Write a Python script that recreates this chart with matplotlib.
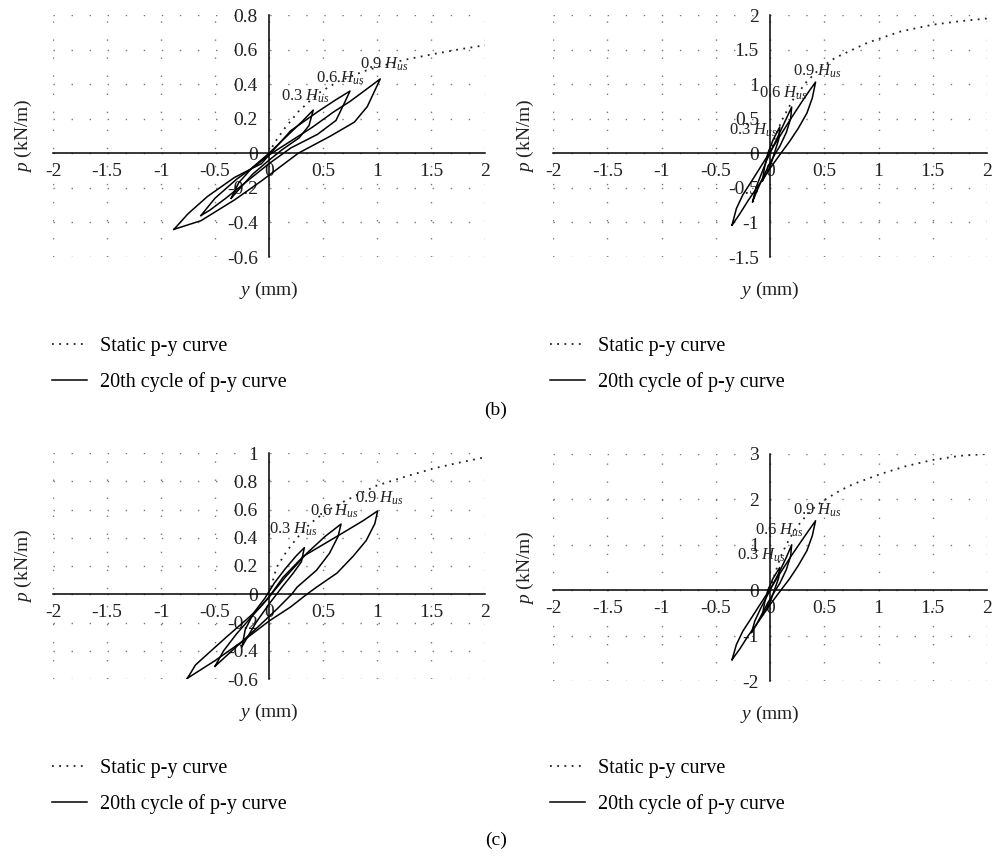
import matplotlib.pyplot as plt
from matplotlib.ticker import FuncFormatter, MultipleLocator

plt.rcParams['font.family'] = ['Liberation Serif', 'DejaVu Serif']
plt.rcParams['mathtext.fontset'] = 'custom'
plt.rcParams['mathtext.rm'] = 'Liberation Serif'
plt.rcParams['mathtext.it'] = 'Liberation Serif:italic'
plt.rcParams['axes.unicode_minus'] = False

levels = ['0.3', '0.6', '0.9']
legend_labels = ['Static p-y curve', '20th cycle of p-y curve']

# (b), left: static backbone and 20th-cycle loops at 0.3/0.6/0.9 H_us
bl_static_y = [0, 0.05, 0.14, 0.27, 0.45, 0.64, 0.88, 1.04, 1.25, 1.53, 1.75, 2.0]
bl_static_p = [0, 0.06, 0.14, 0.24, 0.345, 0.415, 0.475, 0.505, 0.54, 0.575, 0.6, 0.625]
bl_loop_y = [
    [-0.35, -0.28, -0.15, 0.0, 0.15, 0.3, 0.41, 0.37, 0.28, 0.12, 0.0, -0.15, -0.28, -0.35],
    [-0.63, -0.5, -0.3, -0.1, 0.0, 0.2, 0.45, 0.62, 0.75, 0.69, 0.62, 0.45, 0.2, 0.0, -0.2, -0.4, -0.55, -0.63],
    [-0.88, -0.75, -0.57, -0.32, -0.07, 0.0, 0.2, 0.4, 0.6, 0.75, 0.88, 1.03,
     0.97, 0.91, 0.79, 0.57, 0.27, 0.1, -0.07, -0.32, -0.63, -0.88],
]
bl_loop_p = [
    [-0.26, -0.17, -0.08, 0.0, 0.09, 0.18, 0.25, 0.16, 0.09, 0.02, -0.04, -0.12, -0.21, -0.26],
    [-0.36, -0.26, -0.15, -0.06, -0.01, 0.13, 0.24, 0.31, 0.36, 0.28, 0.19, 0.11, 0.03, -0.06, -0.16, -0.26, -0.33, -0.36],
    [-0.44, -0.35, -0.25, -0.14, -0.06, -0.01, 0.07, 0.15, 0.24, 0.30, 0.36, 0.43,
     0.35, 0.27, 0.18, 0.10, 0.0, -0.08, -0.16, -0.27, -0.39, -0.44],
]

# (b), right
br_static_y = [0, 0.05, 0.11, 0.21, 0.34, 0.47, 0.6, 0.9, 1.2, 1.5, 1.75, 2.0]
br_static_p = [0, 0.25, 0.48, 0.77, 1.04, 1.24, 1.38, 1.6, 1.76, 1.86, 1.91, 1.95]
br_loop_y = [
    [-0.07, -0.05, -0.02, 0.03, 0.09, 0.08, 0.04, 0.0, -0.07],
    [-0.16, -0.13, -0.08, -0.03, 0.03, 0.09, 0.15, 0.20, 0.19, 0.15, 0.09, 0.05, -0.02, -0.08, -0.13, -0.16],
    [-0.35, -0.31, -0.25, -0.16, -0.08, 0.0, 0.1, 0.2, 0.3, 0.37, 0.42,
     0.39, 0.34, 0.26, 0.18, 0.10, 0.0, -0.1, -0.2, -0.28, -0.35],
]
br_loop_p = [
    [-0.40, -0.2, 0.0, 0.2, 0.38, 0.2, 0.0, -0.2, -0.40],
    [-0.70, -0.50, -0.30, -0.10, 0.10, 0.30, 0.50, 0.67, 0.50, 0.30, 0.10, 0.0, -0.20, -0.40, -0.58, -0.70],
    [-1.04, -0.80, -0.60, -0.38, -0.18, 0.02, 0.27, 0.52, 0.76, 0.92, 1.03,
     0.80, 0.58, 0.36, 0.17, 0.0, -0.22, -0.45, -0.68, -0.88, -1.04],
]

# (c), left
cl_static_y = [0, 0.07, 0.16, 0.25, 0.38, 0.5, 0.6, 0.78, 1.0, 1.25, 1.52, 1.75, 2.0]
cl_static_p = [0, 0.19, 0.3, 0.39, 0.5, 0.57, 0.62, 0.69, 0.77, 0.83, 0.89, 0.93, 0.97]
cl_loop_y = [
    [-0.25, -0.22, -0.14, -0.04, 0.05, 0.15, 0.25, 0.327, 0.3, 0.225, 0.12, 0.0, -0.12, -0.25],
    [-0.5, -0.42, -0.3, -0.15, 0.0, 0.15, 0.35, 0.52, 0.667, 0.64, 0.56, 0.44, 0.26, 0.21, 0.08, -0.1, -0.3, -0.5],
    [-0.756, -0.68, -0.55, -0.39, -0.21, -0.08, 0.0, 0.13, 0.32, 0.63, 0.87, 1.006,
     0.98, 0.90, 0.78, 0.63, 0.44, 0.35, 0.2, 0.0, -0.24, -0.5, -0.756],
]
cl_loop_p = [
    [-0.37, -0.25, -0.13, -0.03, 0.08, 0.18, 0.27, 0.33, 0.23, 0.15, 0.05, -0.07, -0.2, -0.37],
    [-0.51, -0.40, -0.28, -0.15, -0.02, 0.12, 0.29, 0.41, 0.497, 0.41, 0.29, 0.17, 0.05, 0.0, -0.1, -0.23, -0.37, -0.51],
    [-0.595, -0.5, -0.41, -0.30, -0.18, -0.09, -0.02, 0.12, 0.27, 0.41, 0.52, 0.59,
     0.50, 0.38, 0.27, 0.15, 0.05, 0.0, -0.09, -0.19, -0.33, -0.47, -0.595],
]

# (c), right
cr_static_y = [0, 0.05, 0.1, 0.15, 0.22, 0.3, 0.42, 0.53, 0.65, 0.77, 1.02, 1.25, 1.5, 1.75, 2.0]
cr_static_p = [0, 0.4, 0.75, 1.0, 1.3, 1.55, 1.85, 2.03, 2.2, 2.34, 2.56, 2.73, 2.87, 2.96, 3.0]
cr_loop_y = [
    [-0.07, -0.05, -0.02, 0.03, 0.09, 0.08, 0.04, 0.0, -0.07],
    [-0.17, -0.14, -0.09, -0.03, 0.03, 0.09, 0.15, 0.20, 0.19, 0.15, 0.09, 0.05, -0.02, -0.08, -0.13, -0.17],
    [-0.35, -0.31, -0.25, -0.16, -0.08, 0.0, 0.1, 0.2, 0.3, 0.37, 0.42,
     0.39, 0.34, 0.26, 0.18, 0.10, 0.0, -0.1, -0.2, -0.28, -0.35],
]
cr_loop_p = [
    [-0.55, -0.28, 0.0, 0.27, 0.50, 0.27, 0.0, -0.27, -0.55],
    [-0.93, -0.68, -0.42, -0.14, 0.14, 0.42, 0.72, 1.00, 0.75, 0.45, 0.15, 0.0, -0.28, -0.55, -0.78, -0.93],
    [-1.53, -1.20, -0.90, -0.57, -0.27, 0.02, 0.40, 0.77, 1.12, 1.36, 1.53,
     1.20, 0.87, 0.54, 0.25, 0.0, -0.32, -0.67, -1.0, -1.3, -1.53],
]

W, H = 992, 859
fig = plt.figure(figsize=(W / 100, H / 100), dpi=100)


def px_rect(left, top, right, bottom):
    return [left / W, 1 - bottom / H, (right - left) / W, (bottom - top) / H]


panels = [
    # rect, ylim, ystep, static, loops, label anchors, ylabel x
    (px_rect(53, 15, 485, 257), (-0.6, 0.8), 0.2, (bl_static_y, bl_static_p),
     (bl_loop_y, bl_loop_p), [(0.11, 0.305), (0.435, 0.41), (0.84, 0.49)], 23),
    (px_rect(553, 15, 987, 257), (-1.5, 2.0), 0.5, (br_static_y, br_static_p),
     (br_loop_y, br_loop_p), [(-0.38, 0.265), (-0.10, 0.81), (0.21, 1.13)], 525),
    (px_rect(53, 453, 485, 679), (-0.6, 1.0), 0.2, (cl_static_y, cl_static_p),
     (cl_loop_y, cl_loop_p), [(0.0, 0.43), (0.38, 0.554), (0.796, 0.65)], 23),
    (px_rect(553, 454, 987, 681), (-2.0, 3.0), 1.0, (cr_static_y, cr_static_p),
     (cr_loop_y, cr_loop_p), [(-0.30, 0.67), (-0.134, 1.22), (0.214, 1.66)], 525),
]

fmt = FuncFormatter(lambda v, pos: '%g' % round(v, 2))
handles = None

for rect, ylim, ystep, static, loops, anchors, ylab_px in panels:
    ax = fig.add_axes(rect)
    ax.set_xlim(-2, 2)
    ax.set_ylim(*ylim)
    ax.xaxis.set_major_locator(MultipleLocator(0.5))
    ax.yaxis.set_major_locator(MultipleLocator(ystep))
    ax.xaxis.set_major_formatter(fmt)
    ax.yaxis.set_major_formatter(fmt)

    for side in ['top', 'right']:
        ax.spines[side].set_visible(False)
    for side in ['left', 'bottom']:
        ax.spines[side].set_position(('data', 0))
        ax.spines[side].set_linewidth(1.1)
        ax.spines[side].set_zorder(1)
    ax.tick_params(length=0, labelsize=14, colors='#222')
    ax.tick_params(axis='y', pad=8)
    ax.tick_params(axis='x', pad=7)
    ax.grid(True, color='#777', lw=1.0, ls=(0, (1, 12)))
    ax.set_axisbelow(True)

    st, = ax.plot(static[0], static[1], color='#222', lw=1.3, ls=(0, (1, 3)))
    for ly, lp in zip(loops[0], loops[1]):
        cyc, = ax.plot(ly, lp, color='black', lw=1.1, solid_joinstyle='round')
    handles = [st, cyc]

    for lev, (tx, tp) in zip(levels, anchors):
        ax.text(tx, tp, lev + r' $H_{us}$', fontsize=12, color='#222',
                ha='left', va='baseline')

    fig_left = rect[0] * W
    fig_top = (1 - rect[1] - rect[3]) * H
    fig_bottom = (1 - rect[1]) * H
    fig.text(ylab_px / W, 1 - (fig_top + fig_bottom) / 2 / H, r'$p$ (kN/m)',
             rotation=90, ha='center', va='center', fontsize=14, color='#222')
    fig.text((fig_left + rect[2] * W / 2) / W, 1 - (fig_bottom + 33) / H,
             r'$y$ (mm)', ha='center', va='center', fontsize=14, color='#222')

# legends under each column
for lx, ly in [(52, 337), (550, 337), (52, 759), (550, 759)]:
    fig.legend(handles, legend_labels, loc='upper left',
               bbox_to_anchor=(lx / W, 1 - ly / H), bbox_transform=fig.transFigure,
               frameon=False, fontsize=14.5, handlelength=1.75, handletextpad=0.65,
               labelspacing=0.8, borderpad=0, borderaxespad=0)

fig.text(0.5, 1 - 410 / H, '(b)', ha='center', va='center', fontsize=14)
fig.text(0.5, 1 - 840 / H, '(c)', ha='center', va='center', fontsize=14)

fig.savefig('out.png', dpi=100)
